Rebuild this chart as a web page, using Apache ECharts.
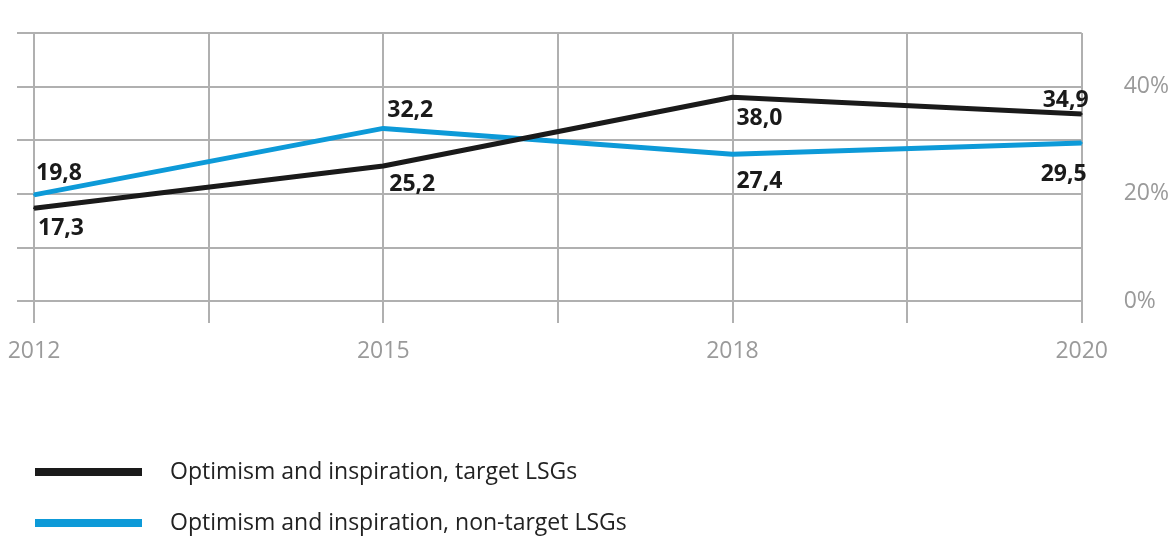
<!DOCTYPE html>
<html>
<head>
<meta charset="utf-8">
<script src="https://cdn.jsdelivr.net/npm/echarts@6/dist/echarts.min.js"></script>
<style>
html,body{margin:0;padding:0;background:#fff;}
#c{width:1172px;height:536px;}
</style>
</head>
<body>
<div id="c"></div>
<script>
// ---- data ----
const years = ['2012', '2015', '2018', '2020'];
const targetValues = [17.3, 25.2, 38.0, 34.9];
const nonTargetValues = [19.8, 32.2, 27.4, 29.5];
const seriesNames = ['Optimism and inspiration, target LSGs', 'Optimism and inspiration, non-target LSGs'];
const yTickLabels = { 0: '0%', 20: '20%', 40: '40%' };

// ---- layout (label placement relative to each point) ----
const targetLabelLayout = [
  { pos: [5, 21], align: 'left' },
  { pos: [7, 20], align: 'left' },
  { pos: [5, 22], align: 'left' },
  { pos: [8, -12], align: 'right' }
];
const nonTargetLabelLayout = [
  { pos: [3, -20], align: 'left' },
  { pos: [5, -17], align: 'left' },
  { pos: [5, 28], align: 'left' },
  { pos: [6, 33], align: 'right' }
];

const fmt = v => v.toFixed(1).replace('.', ',');
const FONT = '"Open Sans", sans-serif';
const GRID_COLOR = '#b0b0b0';
const GRID_W = 2;

function buildData(values, layout) {
  return values.map((v, i) => ({
    value: [i, v],
    label: {
      show: true,
      position: layout[i].pos,
      align: layout[i].align,
      verticalAlign: 'middle',
      formatter: p => fmt(p.value[1]),
      fontFamily: FONT,
      fontWeight: 'bold',
      fontSize: 23,
      color: '#1a1a1a'
    }
  }));
}

const chart = echarts.init(document.getElementById('c'), null, { renderer: 'canvas' });

const xBase = { type: 'value', min: 0, max: years.length - 1, interval: 0.5 };
const yBase = { type: 'value', min: 0, max: 50, interval: 10 };
const gridLine = { color: GRID_COLOR, width: GRID_W };

chart.setOption({
  animation: false,
  backgroundColor: '#ffffff',
  grid: { left: 34, right: 89, top: 33, bottom: 235, containLabel: false },
  legend: {
    orient: 'vertical',
    left: 30,
    top: 453,
    height: 100,
    itemWidth: 107,
    itemHeight: 8,
    itemGap: 23,
    icon: 'rect',
    data: seriesNames,
    textStyle: { fontFamily: FONT, fontSize: 23, lineHeight: 28, color: '#222', padding: [0, 0, 0, 23] }
  },
  xAxis: [
    Object.assign({}, xBase, {
      position: 'bottom',
      axisLine: { show: true, lineStyle: gridLine },
      axisTick: { show: true, inside: false, length: 22, lineStyle: gridLine },
      splitLine: { show: true, lineStyle: gridLine },
      axisLabel: {
        margin: 39,
        fontFamily: FONT, fontSize: 23, color: '#9a9a9a',
        formatter: v => Number.isInteger(v) ? years[v] : ''
      }
    }),
    Object.assign({}, xBase, {
      position: 'top',
      axisLine: { show: false },
      axisTick: { show: true, inside: false, length: 17, lineStyle: gridLine },
      splitLine: { show: false },
      axisLabel: { show: false }
    })
  ],
  yAxis: [
    Object.assign({}, yBase, {
      position: 'right',
      axisLine: { show: false },
      axisTick: { show: true, inside: false, length: 20, lineStyle: gridLine },
      splitLine: { show: true, lineStyle: gridLine },
      axisLabel: {
        margin: 42,
        fontFamily: FONT, fontSize: 23, color: '#9a9a9a',
        formatter: v => yTickLabels[v] || ''
      }
    }),
    Object.assign({}, yBase, {
      position: 'left',
      axisLine: { show: false },
      axisTick: { show: true, inside: false, length: 17, lineStyle: gridLine },
      splitLine: { show: false },
      axisLabel: { show: false }
    })
  ],
  series: [
    {
      name: seriesNames[0],
      type: 'line',
      xAxisIndex: 0, yAxisIndex: 0,
      data: buildData(targetValues, targetLabelLayout),
      symbol: 'circle', symbolSize: 2,
      lineStyle: { color: '#1a1a1a', width: 5 },
      itemStyle: { color: '#1a1a1a' },
      z: 3
    },
    {
      name: seriesNames[1],
      type: 'line',
      xAxisIndex: 0, yAxisIndex: 0,
      data: buildData(nonTargetValues, nonTargetLabelLayout),
      symbol: 'circle', symbolSize: 2,
      lineStyle: { color: '#0d9ad8', width: 5 },
      itemStyle: { color: '#0d9ad8' },
      z: 2
    }
  ]
});
</script>
</body>
</html>
